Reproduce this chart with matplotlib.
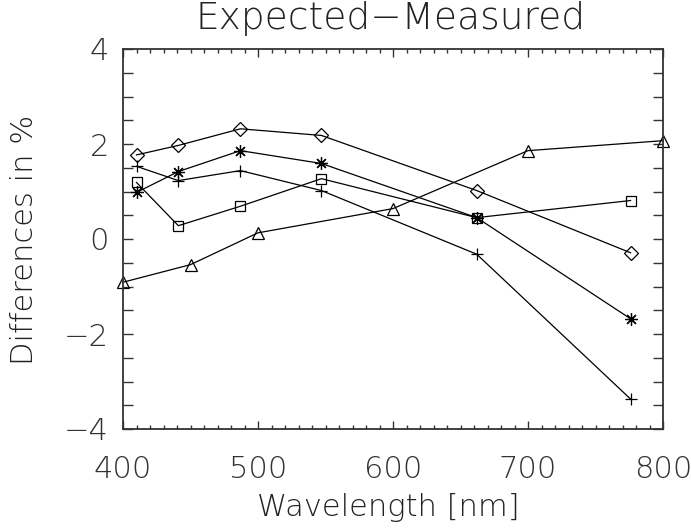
import matplotlib
matplotlib.use("Agg")
import matplotlib.pyplot as plt
from matplotlib import font_manager
from matplotlib.ticker import MultipleLocator

# Diferencias (esperado - medido) en % por longitud de onda
wl_bands = [410, 441, 487, 547, 662, 776]
diff_diamond = [1.77, 1.97, 2.32, 2.18, 1.02, -0.29]
diff_star = [0.98, 1.42, 1.86, 1.59, 0.45, -1.68]
diff_plus = [1.53, 1.23, 1.44, 1.02, -0.32, -3.37]
diff_square = [1.19, 0.28, 0.69, 1.27, 0.45, 0.81]

wl_tri = [400, 450, 500, 600, 700, 800]
diff_tri = [-0.91, -0.54, 0.13, 0.64, 1.86, 2.07]

# letra fina y ancha si existe, si no Lato light
path = font_manager.findfont(font_manager.FontProperties(family='DejaVu Sans', weight=200))
if 'ExtraLight' in path:
    plt.rcParams['font.family'] = ['DejaVu Sans']
    plt.rcParams['font.weight'] = 200
else:
    plt.rcParams['font.family'] = ['Lato', 'DejaVu Sans']
    plt.rcParams['font.weight'] = 300
plt.rcParams['axes.unicode_minus'] = True

fig = plt.figure(figsize=(6.91, 5.31), dpi=100)
ax = fig.add_axes([123 / 691, 1 - 429 / 531, 540 / 691, 380 / 531])

lw = 0.9
ax.plot(wl_bands, diff_diamond, color='black', lw=lw, marker='D', ms=7,
        mfc='none', mec='black', mew=0.9, clip_on=False)
ax.plot(wl_bands, diff_star, color='black', lw=lw, marker=(8, 2, 0), ms=9,
        mec='black', mew=0.9, clip_on=False)
ax.plot(wl_bands, diff_plus, color='black', lw=lw, marker='+', ms=9,
        mec='black', mew=0.9, clip_on=False)
ax.plot(wl_bands, diff_square, color='black', lw=lw, marker='s', ms=7.5,
        mfc='none', mec='black', mew=0.9, clip_on=False)
ax.plot(wl_tri, diff_tri, color='black', lw=lw, marker='^', ms=9,
        mfc='none', mec='black', mew=0.9, clip_on=False)

ax.set_xlim(400, 800)
ax.set_ylim(-4, 4)
ax.xaxis.set_major_locator(MultipleLocator(100))
ax.xaxis.set_minor_locator(MultipleLocator(10))
ax.yaxis.set_major_locator(MultipleLocator(2))
ax.yaxis.set_minor_locator(MultipleLocator(0.5))

for s in ax.spines.values():
    s.set_linewidth(1.3)
    s.set_color('#333333')

ax.tick_params(axis='x', which='major', direction='in', length=6, width=1,
               top=True, bottom=True, pad=19, labelsize=22, colors='#333333')
ax.tick_params(axis='x', which='minor', direction='in', length=3, width=1,
               top=True, bottom=True, colors='#333333')
ax.tick_params(axis='y', which='both', direction='in', length=7, width=1,
               left=True, right=True, colors='#333333')
ax.tick_params(axis='y', which='major', pad=10, labelsize=22)

fig.text(391 / 691, 1 - 18 / 531, 'Expected\u2212Measured', fontsize=27,
         ha='center', va='center', color='#222222')
fig.text(388 / 691, 1 - 508 / 531, 'Wavelength [nm]', fontsize=22,
         ha='center', va='center', color='#222222')
fig.text(25 / 691, 1 - 240 / 531, 'Differences in %', fontsize=22,
         rotation=90, ha='center', va='center', color='#222222')

fig.savefig('out.png', dpi=100)
